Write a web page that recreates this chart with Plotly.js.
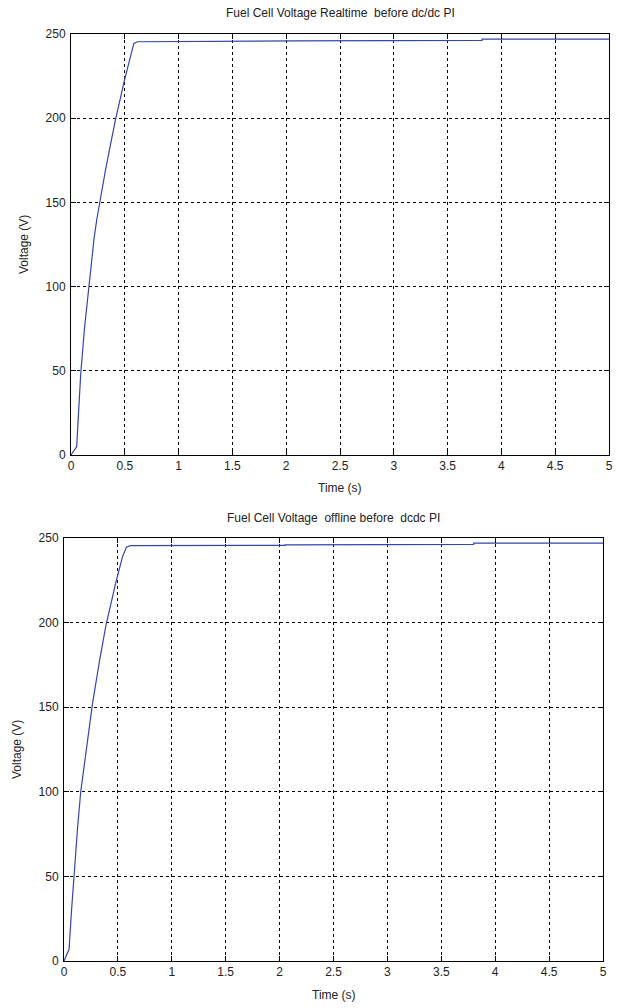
<!DOCTYPE html>
<html>
<head>
<meta charset="utf-8">
<script src="https://cdn.plot.ly/plotly-3.0.1.min.js"></script>
<style>
  html, body { margin: 0; padding: 0; background: #ffffff; }
  #chart { width: 617px; height: 1008px; }
</style>
</head>
<body>
<div id="chart"></div>
<script>
// Realtime (top) trace
var timeRealtime = [0, 0.053, 0.07, 0.09, 0.125, 0.163, 0.19, 0.215, 0.24, 0.266, 0.32, 0.366, 0.413, 0.497, 0.538, 0.584, 0.62, 2.05, 2.05, 3.82, 3.82, 5];
var voltRealtime = [0, 5, 25, 47.7, 75, 99, 116, 129, 140, 150, 169, 184, 199, 222.6, 233.5, 244.4, 245.4, 245.5, 245.9, 246.2, 247.0, 247.0];

// Offline (bottom) trace
var timeOffline = [0, 0.047, 0.07, 0.093, 0.125, 0.155, 0.19, 0.224, 0.264, 0.326, 0.388, 0.48, 0.543, 0.58, 0.62, 2.05, 2.05, 3.80, 3.80, 5];
var voltOffline = [0, 6.9, 30, 52, 78, 100, 116, 131, 152, 176, 198, 223.5, 239, 244.7, 245.5, 245.6, 245.9, 246.2, 247.0, 247.0];

var xTicks = [0, 0.5, 1, 1.5, 2, 2.5, 3, 3.5, 4, 4.5, 5];
var xTickText = ["0", "0.5", "1", "1.5", "2", "2.5", "3", "3.5", "4", "4.5", "5"];
var yTicks = [0, 50, 100, 150, 200, 250];

var titleTop = "Fuel Cell Voltage Realtime  before dc/dc PI";
var titleBottom = "Fuel Cell Voltage  offline before  dcdc PI";
var xLabel = "Time (s)";
var yLabel = "Voltage (V)";

var W = 617, H = 1008;
var font = "Liberation Sans, Arial, sans-serif";
var lineColor = "#3345b0";

function xAxis(domain, anchor) {
  return {
    domain: domain, anchor: anchor, range: [0, 5],
    tickmode: "array", tickvals: xTicks, ticktext: xTickText,
    ticks: "inside", ticklen: 5, tickcolor: "#000", tickwidth: 1,
    showline: true, linecolor: "#000", linewidth: 1, mirror: "ticks",
    showgrid: true, gridcolor: "#000", gridwidth: 1, griddash: "3px,3px",
    zeroline: false, tickfont: { family: font, size: 12, color: "#222" },
    fixedrange: true
  };
}
function yAxis(domain, anchor) {
  return {
    domain: domain, anchor: anchor, range: [0, 250],
    tickmode: "array", tickvals: yTicks,
    ticks: "inside", ticklen: 5, tickcolor: "#000", tickwidth: 1,
    showline: true, linecolor: "#000", linewidth: 1, mirror: "ticks",
    showgrid: true, gridcolor: "#000", gridwidth: 1, griddash: "3px,3px",
    zeroline: false, tickfont: { family: font, size: 12, color: "#222" },
    ticklabelstandoff: 2,
    fixedrange: true
  };
}

var topX = [71 / W, 609 / W], topY = [1 - 455 / H, 1 - 34 / H];
var botX = [64 / W, 603 / W], botY = [1 - 961 / H, 1 - 538 / H];

var traces = [
  { x: timeRealtime, y: voltRealtime, type: "scatter", mode: "lines", xaxis: "x", yaxis: "y",
    line: { color: lineColor, width: 1.2 }, hoverinfo: "skip" },
  { x: timeOffline, y: voltOffline, type: "scatter", mode: "lines", xaxis: "x2", yaxis: "y2",
    line: { color: lineColor, width: 1.2 }, hoverinfo: "skip" }
];

function ann(text, x, y, rot, size) {
  return { text: text, xref: "paper", yref: "paper", x: x / W, y: 1 - y / H,
           showarrow: false, textangle: rot || 0, xanchor: "center", yanchor: "middle",
           font: { family: font, size: size || 12, color: "#222" } };
}

var layout = {
  width: W, height: H,
  margin: { l: 0, r: 0, t: 0, b: 0 },
  paper_bgcolor: "#ffffff", plot_bgcolor: "#ffffff",
  showlegend: false,
  xaxis: xAxis(topX, "y"), yaxis: yAxis(topY, "x"),
  xaxis2: xAxis(botX, "y2"), yaxis2: yAxis(botY, "x2"),
  annotations: [
    ann(titleTop, 340, 13),
    ann(xLabel, 340, 488),
    ann(yLabel, 24, 245, -90),
    ann(titleBottom, 333, 518),
    ann(xLabel, 334, 995),
    ann(yLabel, 17, 750, -90)
  ]
};

Plotly.newPlot("chart", traces, layout, { displayModeBar: false, staticPlot: true });
</script>
</body>
</html>
